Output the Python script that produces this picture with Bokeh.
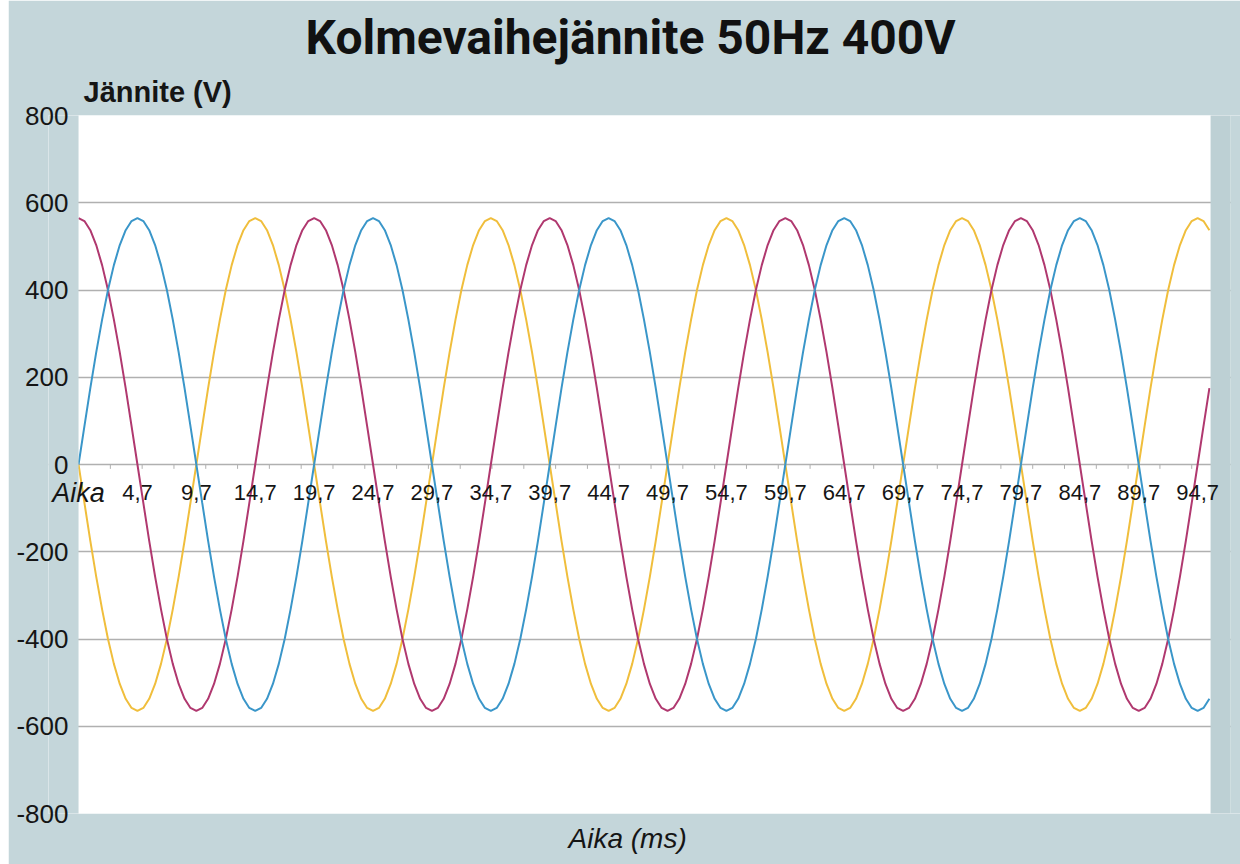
from bokeh.plotting import figure
from bokeh.layouts import row
from bokeh.models import (Range1d, FixedTicker, Label, Title, BoxAnnotation, Spacer,
                          CustomJSTickFormatter)
from bokeh.embed import file_html
from bokeh.resources import INLINE

# ---- data, samples every 0.5 ms ----
phase_blue = [
    0, 88, 175, 257, 332, 400, 457, 503, 537, 558, 565, 558, 537, 503, 457, 400, 332, 257, 175, 88,
    0, -88, -175, -257, -332, -400, -457, -503, -537, -558, -565, -558, -537, -503, -457, -400, -332, -257, -175, -88,
    0, 88, 175, 257, 332, 400, 457, 503, 537, 558, 565, 558, 537, 503, 457, 400, 332, 257, 175, 88,
    0, -88, -175, -257, -332, -400, -457, -503, -537, -558, -565, -558, -537, -503, -457, -400, -332, -257, -175, -88,
    0, 88, 175, 257, 332, 400, 457, 503, 537, 558, 565, 558, 537, 503, 457, 400, 332, 257, 175, 88,
    0, -88, -175, -257, -332, -400, -457, -503, -537, -558, -565, -558, -537, -503, -457, -400, -332, -257, -175, -88,
    0, 88, 175, 257, 332, 400, 457, 503, 537, 558, 565, 558, 537, 503, 457, 400, 332, 257, 175, 88,
    0, -88, -175, -257, -332, -400, -457, -503, -537, -558, -565, -558, -537, -503, -457, -400, -332, -257, -175, -88,
    0, 88, 175, 257, 332, 400, 457, 503, 537, 558, 565, 558, 537, 503, 457, 400, 332, 257, 175, 88,
    0, -88, -175, -257, -332, -400, -457, -503, -537, -558, -565, -558, -537,
]
phase_yellow = [
    0, -88, -175, -257, -332, -400, -457, -503, -537, -558, -565, -558, -537, -503, -457, -400, -332, -257, -175, -88,
    0, 88, 175, 257, 332, 400, 457, 503, 537, 558, 565, 558, 537, 503, 457, 400, 332, 257, 175, 88,
    0, -88, -175, -257, -332, -400, -457, -503, -537, -558, -565, -558, -537, -503, -457, -400, -332, -257, -175, -88,
    0, 88, 175, 257, 332, 400, 457, 503, 537, 558, 565, 558, 537, 503, 457, 400, 332, 257, 175, 88,
    0, -88, -175, -257, -332, -400, -457, -503, -537, -558, -565, -558, -537, -503, -457, -400, -332, -257, -175, -88,
    0, 88, 175, 257, 332, 400, 457, 503, 537, 558, 565, 558, 537, 503, 457, 400, 332, 257, 175, 88,
    0, -88, -175, -257, -332, -400, -457, -503, -537, -558, -565, -558, -537, -503, -457, -400, -332, -257, -175, -88,
    0, 88, 175, 257, 332, 400, 457, 503, 537, 558, 565, 558, 537, 503, 457, 400, 332, 257, 175, 88,
    0, -88, -175, -257, -332, -400, -457, -503, -537, -558, -565, -558, -537, -503, -457, -400, -332, -257, -175, -88,
    0, 88, 175, 257, 332, 400, 457, 503, 537, 558, 565, 558, 537,
]
phase_magenta = [
    565, 558, 537, 503, 457, 400, 332, 257, 175, 88, 0, -88, -175, -257, -332, -400, -457, -503, -537, -558,
    -565, -558, -537, -503, -457, -400, -332, -257, -175, -88, 0, 88, 175, 257, 332, 400, 457, 503, 537, 558,
    565, 558, 537, 503, 457, 400, 332, 257, 175, 88, 0, -88, -175, -257, -332, -400, -457, -503, -537, -558,
    -565, -558, -537, -503, -457, -400, -332, -257, -175, -88, 0, 88, 175, 257, 332, 400, 457, 503, 537, 558,
    565, 558, 537, 503, 457, 400, 332, 257, 175, 88, 0, -88, -175, -257, -332, -400, -457, -503, -537, -558,
    -565, -558, -537, -503, -457, -400, -332, -257, -175, -88, 0, 88, 175, 257, 332, 400, 457, 503, 537, 558,
    565, 558, 537, 503, 457, 400, 332, 257, 175, 88, 0, -88, -175, -257, -332, -400, -457, -503, -537, -558,
    -565, -558, -537, -503, -457, -400, -332, -257, -175, -88, 0, 88, 175, 257, 332, 400, 457, 503, 537, 558,
    565, 558, 537, 503, 457, 400, 332, 257, 175, 88, 0, -88, -175, -257, -332, -400, -457, -503, -537, -558,
    -565, -558, -537, -503, -457, -400, -332, -257, -175, -88, 0, 88, 175,
]
sample_step_ms = 0.5
first_time_ms = -0.3
time_ms = [round(first_time_ms + sample_step_ms * i, 1) for i in range(len(phase_blue))]

x_tick_positions = [-0.3, 4.7, 9.7, 14.7, 19.7, 24.7, 29.7, 34.7, 39.7, 44.7,
                    49.7, 54.7, 59.7, 64.7, 69.7, 74.7, 79.7, 84.7, 89.7, 94.7]
x_tick_labels = ["Aika", "4,7", "9,7", "14,7", "19,7", "24,7", "29,7", "34,7", "39,7", "44,7",
                 "49,7", "54,7", "59,7", "64,7", "69,7", "74,7", "79,7", "84,7", "89,7", "94,7"]
y_ticks = [-800, -600, -400, -200, 0, 200, 400, 600, 800]
zero_minor_ticks = [round(-0.3 + 2.7 * i, 2) for i in range(36)]

BG = "#c4d6da"
SHADOW = "#bdd0d4"
X_LEFT = -2.85      # grey margin inside the frame (room for the "Aika" label)
X_PLOT_START = -0.3
X_PLOT_END = 95.8
X_SHADOW_END = 97.5
X_RIGHT = 98.34

p = figure(width=1232, height=864, output_backend="svg", toolbar_location=None,
           x_range=Range1d(X_LEFT, X_RIGHT), y_range=Range1d(-800, 800),
           min_border_left=40, min_border_right=0, min_border_top=115, min_border_bottom=51)
p.background_fill_color = "white"
p.border_fill_color = BG
p.outline_line_color = None

p.xaxis.visible = False
p.xgrid.visible = False

p.yaxis.ticker = FixedTicker(ticks=y_ticks)
p.yaxis.formatter = CustomJSTickFormatter(code="return tick.toFixed(0)")
p.yaxis.axis_line_color = None
p.yaxis.major_tick_line_color = None
p.yaxis.minor_tick_line_color = None
p.yaxis.major_tick_in = 0
p.yaxis.major_tick_out = 0
p.yaxis.major_label_standoff = -20
p.yaxis.major_label_text_font = "Liberation Sans"
p.yaxis.major_label_text_font_size = "26px"
p.yaxis.major_label_text_color = "#151515"

p.ygrid.ticker = FixedTicker(ticks=[t for t in y_ticks if abs(t) < 800])
p.ygrid.grid_line_color = "#b0b0b0"
p.ygrid.grid_line_width = 1.5

# grey margins inside the frame, and the faint strip at the right edge of the plot area
p.add_layout(BoxAnnotation(left=X_LEFT - 1, right=X_PLOT_START, bottom=-810, top=810,
                           fill_color=BG, fill_alpha=1.0, line_color=None, level="glyph"))
p.add_layout(BoxAnnotation(left=X_PLOT_END, right=X_SHADOW_END, bottom=-810, top=810,
                           fill_color=SHADOW, fill_alpha=1.0, line_color=None, level="glyph"))
p.add_layout(BoxAnnotation(left=X_SHADOW_END, right=X_RIGHT + 1, bottom=-810, top=810,
                           fill_color=BG, fill_alpha=1.0, line_color=None, level="glyph"))

# small tick marks below the zero line
p.segment(x0=zero_minor_ticks, y0=[0] * len(zero_minor_ticks),
          x1=zero_minor_ticks, y1=[-10] * len(zero_minor_ticks),
          line_color="#b0b0b0", line_width=1)

p.line(time_ms, phase_yellow, line_color="#f0be3c", line_width=2)
p.line(time_ms, phase_magenta, line_color="#b0386f", line_width=2)
p.line(time_ms, phase_blue, line_color="#3a96c9", line_width=2)

for xpos, lab in zip(x_tick_positions, x_tick_labels):
    is_first = lab == "Aika"
    p.add_layout(Label(x=xpos, y=0, x_units="data", y_units="data", y_offset=-28,
                       text=lab, text_align="center", text_baseline="middle",
                       text_font="Liberation Sans",
                       text_font_size="27px" if is_first else "22px",
                       text_color="#151515",
                       text_font_style="italic" if is_first else "normal"))

p.add_layout(Title(text="Jännite (V)", align="left", offset=35, standoff=15,
                   text_font="Liberation Sans", text_font_style="bold",
                   text_font_size="29px", text_color="#151515"), "above")
p.add_layout(Title(text="Kolmevaihejännite 50Hz 400V", align="left", offset=257, standoff=2,
                   text_font="Roboto", text_font_style="bold",
                   text_font_size="48px", text_color="#111111"), "above")
p.add_layout(Title(text="Aika (ms)", align="left", offset=520, standoff=14,
                   text_font="Liberation Sans", text_font_style="italic",
                   text_font_size="28px", text_color="#151515"), "below")

layout = row(Spacer(width=8, height=864, styles={"background-color": "white"}), p)
open("out.html", "w").write(file_html(layout, INLINE))
